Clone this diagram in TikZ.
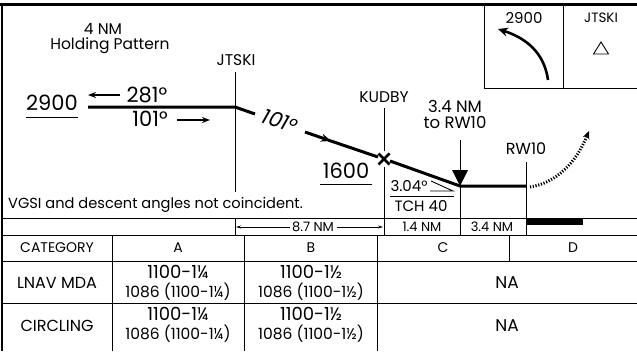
\documentclass[tikz,border=0pt]{standalone}
\usepackage{fontspec}
\setmainfont{Poppins}
\usetikzlibrary{arrows.meta}
\begin{document}
\begin{tikzpicture}[x=1pt,y=-1pt,
  thinln/.style={line width=0.9pt},
  pathln/.style={line width=3pt},
  borderln/.style={line width=2.4pt},
  lab/.style={inner sep=0pt, font=\fontsize{15.5}{15.5}\selectfont},
  big/.style={inner sep=0pt, font=\fontsize{21}{21}\selectfont},
  small/.style={inner sep=0pt, font=\fontsize{13}{13}\selectfont},
  hdr/.style={inner sep=0pt, font=\fontsize{14}{14}\selectfont},
  rowh/.style={inner sep=0pt, font=\fontsize{16}{16}\selectfont},
  mda/.style={inner sep=0pt, font=\fontsize{18}{18}\selectfont},
  mdb/.style={inner sep=0pt, font=\fontsize{15.5}{15.5}\selectfont},
  mid/.style={inner sep=0pt, font=\fontsize{15}{15}\selectfont}]
\useasboundingbox (0,0) rectangle (637,351);
% frame
\draw[borderln] (0,4.5) -- (637,4.5);
\draw[borderln] (2,4.5) -- (2,351);
% plan-view box top right
\draw[thinln] (484,4.5) -- (484,88) -- (637,88);
\draw[thinln] (563,4.5) -- (563,88);
\node[lab, font=\fontsize{15}{15}\selectfont] (box2900) at (524,18) {2900};
\node[lab, font=\fontsize{13.5}{13.5}\selectfont] (boxJ) at (601,18) {JTSKI};
\draw[thinln] (601,42) -- (608.5,54) -- (593.5,54) -- cycle;
\draw[line width=2.6pt, -{Stealth[length=10pt,width=9pt]}] (548,80) .. controls (545,58) and (532,40) .. (498,29);
% holding
\node[lab] (hold1) at (103,29) {4 NM};
\node[lab] (hold2) at (110,46) {Holding Pattern};
\node[lab] (jtski) at (236,60) {JTSKI};
\draw[thinln] (235,72) -- (235,192);
\draw[pathln] (88,107) -- (235,107) -- (255,114);
\node[big] (alt2900) at (52,103) {2900};
\draw[thinln] (26,117) -- (78,117);
\draw[line width=1.6pt, -{Stealth[length=8pt,width=6pt]}] (120,95) -- (88,95);
\node[big] (c281) at (147,95) {281°};
\node[big] (c101) at (150,119) {101°};
\draw[line width=1.6pt, -{Stealth[length=8pt,width=6pt]}] (177,120) -- (210,120);
\node[big, rotate=-19.5, font=\fontsize{21}{21}\selectfont\itshape] (c101b) at (280,121) {101°};
\draw[pathln, -{Stealth[length=10pt,width=8pt]}] (305,132) -- (331,141);
\draw[pathln] (328,140) -- (378,157);
% KUDBY
\node[lab] (kudby) at (384,97) {KUDBY};
\draw[thinln] (384,108) -- (384,151);
\draw[thinln] (384,167) -- (384,235);
\draw[line width=2.6pt] (378.5,153.5) -- (389.5,164.5) (378.5,164.5) -- (389.5,153.5);
\node[big] (alt1600) at (346,171) {1600};
\draw[thinln] (320,184) -- (372,184);
\draw[pathln] (390,161) -- (460,186) -- (526,186);
% MAP
\node[lab, font=\fontsize{16.5}{16.5}\selectfont] (map1) at (455,106) {3.4 NM};
\node[lab, font=\fontsize{16.5}{16.5}\selectfont] (map2) at (455,123) {to RW10};
\draw[thinln] (460,140) -- (460,171);
\fill (452,170) -- (468,170) -- (460,186) -- cycle;
\draw[thinln] (460,186) -- (460,235);
% RW10
\node[lab, font=\fontsize{16}{16}\selectfont] (rw10) at (526,149) {RW10};
\draw[thinln] (526,162) -- (526,235);
\draw[line width=3pt, dash pattern=on 1.2pt off 1.6pt, -{Stealth[length=8pt,width=7pt]}] (530,187) .. controls (556,183) and (576,163) .. (589,131);
% VGSI
\node[mid] (gs) at (409,186) {3.04°};
\draw[thinln] (390,196) -- (454,196);
\node[mid] (tch) at (421,206) {TCH 40};
\draw[thinln] (431,181) -- (453,191) -- (430,191);
\node[lab, font=\fontsize{14.6}{14.6}\selectfont, anchor=west] (note) at (8,205) {VGSI and descent angles not coincident.};
% distance row
\draw[thinln] (2,218) -- (637,218);
\draw[thinln] (235,218) -- (235,235);
\node[small] (d87) at (313,227) {8.7 NM};
\draw[line width=0.7pt, -{Stealth[length=5pt,width=3pt]}] (290,227) -- (236,227);
\draw[line width=0.7pt, -{Stealth[length=5pt,width=3pt]}] (337,227) -- (383,227);
\node[small] (d14) at (422,227) {1.4 NM};
\node[small] (d34) at (492,227) {3.4 NM};
\fill (527,219) rectangle (583,225);
% table
\draw[thinln] (2,235) -- (637,235);
\draw[thinln] (2,261) -- (637,261);
\draw[thinln] (2,303) -- (637,303);
\draw[thinln] (112,235) -- (112,351);
\draw[thinln] (244,235) -- (244,351);
\draw[thinln] (377,235) -- (377,351);
\draw[thinln] (509,235) -- (509,261);
\node[hdr] (hcat) at (57,248) {CATEGORY};
\node[hdr] (ha) at (178,248) {A};
\node[hdr] (hb) at (311,248) {B};
\node[hdr] (hc) at (443,248) {C};
\node[hdr] (hd) at (573,248) {D};
\node[rowh] (r1) at (57,283) {LNAV MDA};
\node[mda] (r1a1) at (178,272) {1100-1¼};
\node[mdb] (r1a2) at (178,292) {1086 (1100-1¼)};
\node[mda] (r1b1) at (311,272) {1100-1½};
\node[mdb] (r1b2) at (311,292) {1086 (1100-1½)};
\node[rowh, font=\fontsize{17}{17}\selectfont] (r1na) at (507,283) {NA};
\node[rowh] (r2) at (57,326) {CIRCLING};
\node[mda] (r2a1) at (178,314) {1100-1¼};
\node[mdb] (r2a2) at (178,334) {1086 (1100-1¼)};
\node[mda] (r2b1) at (311,314) {1100-1½};
\node[mdb] (r2b2) at (311,334) {1086 (1100-1½)};
\node[rowh, font=\fontsize{17}{17}\selectfont] (r2na) at (507,326) {NA};
\end{tikzpicture}
\end{document}
